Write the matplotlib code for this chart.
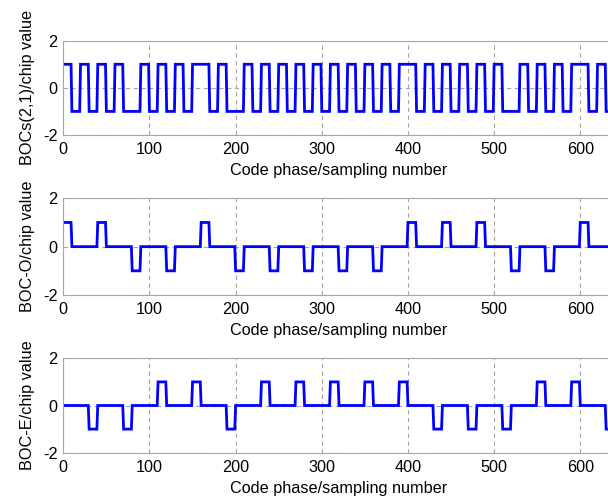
import numpy as np
import matplotlib
matplotlib.use("Agg")
import matplotlib.pyplot as plt

# chip sequence and per-chip subcarrier patterns (4 half-periods of 10 samples each)
chips = [1, 1, -1, -1, 1, -1, -1, -1, -1, -1, 1, 1, 1, -1, -1, 1]
boc_pattern = [1, -1, 1, -1]
odd_pattern = [1, 0, 0, 0]
even_pattern = [0, 0, 0, -1]
half_len = 10

x_ticks = [0, 100, 200, 300, 400, 500, 600]
y_ticks = [-2, 0, 2]
ylabels = ["BOCs(2,1)/chip value", "BOC-O/chip value", "BOC-E/chip value"]
xlabel = "Code phase/sampling number"


def waveform(pattern):
    return np.repeat(np.outer(chips, pattern).ravel(), half_len)


signals = [waveform(boc_pattern), waveform(odd_pattern), waveform(even_pattern)]
n = np.arange(len(signals[0]))

plt.rcParams["font.family"] = ["Liberation Sans", "DejaVu Sans"]
plt.rcParams["axes.unicode_minus"] = False
fig = plt.figure(figsize=(6.08, 5.0), dpi=100)

# axes boxes in figure fractions: left, bottom, width, height
boxes = [(0.1041, 0.730, 0.907, 0.1886),
         (0.1041, 0.410, 0.907, 0.1934),
         (0.1041, 0.0946, 0.907, 0.1888)]

grid_col = "#a6a6a6"
fs = 11.7
for sig, lab, box in zip(signals, ylabels, boxes):
    ax = fig.add_axes(box)
    ax.plot(n, sig, color="#0000ff", lw=2.0, solid_joinstyle="miter")
    ax.set_xlim(0, 640)
    ax.set_ylim(-2, 2)
    ax.set_xticks(x_ticks)
    ax.set_yticks(y_ticks)
    ax.grid(True, color=grid_col, ls=(0, (4, 3)), lw=0.8)
    for s in ax.spines.values():
        s.set_color(grid_col)
        s.set_linewidth(0.8)
    ax.tick_params(length=0, labelsize=fs, pad=5)
    ax.tick_params(axis="y", pad=4)
    ax.set_xlabel(xlabel, fontsize=fs, labelpad=4.5)
    ax.set_ylabel(lab, fontsize=fs, labelpad=6)

fig.savefig("out.png", dpi=100)
